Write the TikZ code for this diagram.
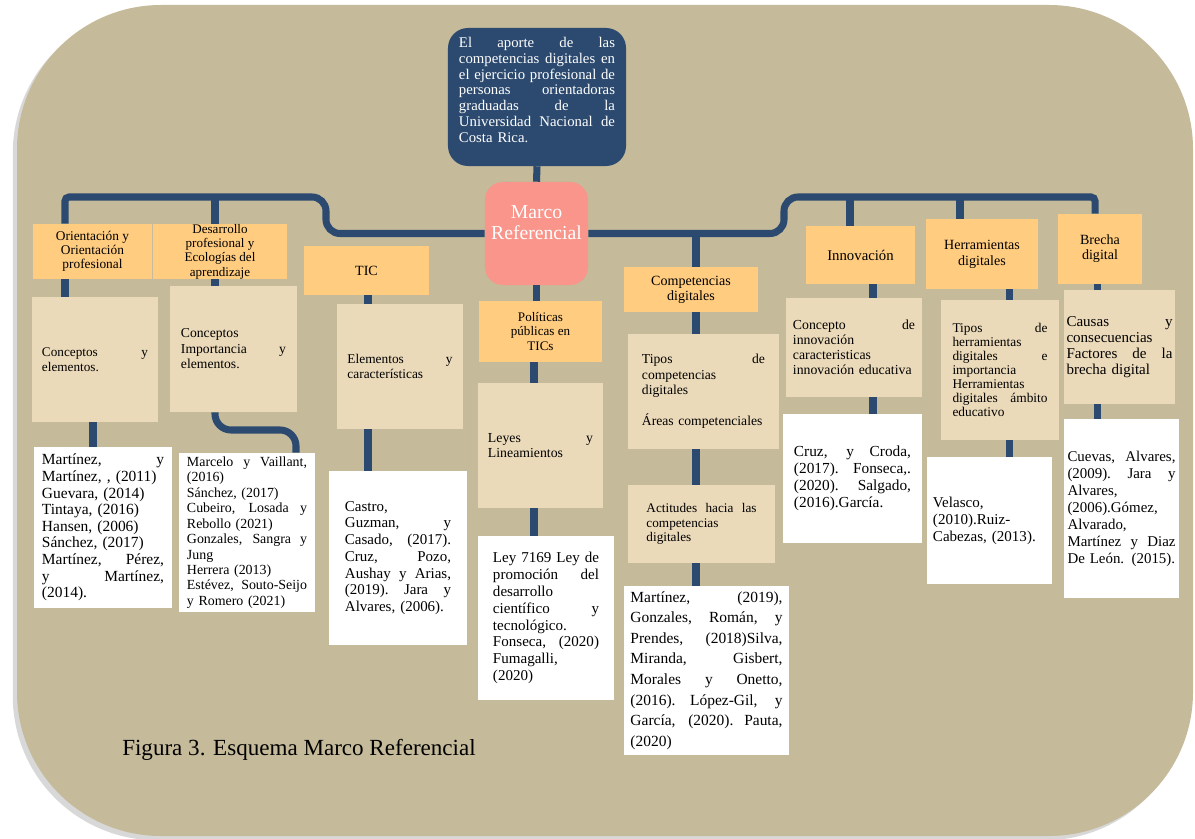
\documentclass[tikz,border=0pt]{standalone}
\usepackage{fontspec}
\setmainfont{Liberation Serif}
\usetikzlibrary{shadows}
\definecolor{fondo}{HTML}{C5BA9A}
\definecolor{azul}{HTML}{2C4A6F}
\definecolor{naranja}{HTML}{FFCC80}
\definecolor{beige}{HTML}{EBDABA}
\definecolor{salmon}{HTML}{F9958A}
% renglon justificado y espacio extra al pie del texto
\newcommand{\jl}[1]{\makebox[\linewidth][s]{\spaceskip=.25em plus 1fil\relax\xspaceskip=.25em plus 1fil\relax #1}}
\newcommand{\bajo}[1]{\par\vspace*{#1}}
\tikzset{
  enlace/.style={draw=azul, line width=5pt},
  fs/.style 2 args={font=\fontsize{#1}{#2}\selectfont},
  caja/.style 2 args={inner sep=0pt, minimum width=#1, minimum height=#2},
  tema/.style={fill=naranja, align=center},
  sub/.style={fill=beige, align=left},
  cita/.style={fill=white, align=left}
}
\begin{document}
\begin{tikzpicture}[x=0.025cm, y=-0.025cm]
\useasboundingbox (0,0) rectangle (1195,839);
\fill[white] (0,0) rectangle (1195,839);
\fill[fondo, rounded corners=3.6cm, drop shadow={shadow xshift=-3pt, shadow yshift=-3pt, opacity=0.3}] (17,5) rectangle (1193,836);

% centro
\node[caja={4.45cm}{3.45cm}, fill=azul, rounded corners=0.5cm, text=white, text width=3.9cm, align=left, fs={10.5}{11.2}] (titulo) at (537,97)
  {\jl{El aporte de las}\\ \jl{competencias digitales en}\\ \jl{el ejercicio profesional de}\\ \jl{personas orientadoras}\\ \jl{graduadas de la}\\ \jl{Universidad Nacional de}\\ Costa Rica.\bajo{10pt}};
\node[caja={2.575cm}{2.575cm}, fill=salmon, rounded corners=0.45cm, text=white, text width=2.5cm, align=center, fs={14}{15}] (marco) at (536.5,233.5) {Marco\\ Referencial\bajo{15pt}};

% temas
\node[tema, caja={2.975cm}{1.375cm}, fs={9.5}{10}] (orient) at (92.5,251.5) {Orientación y\\ Orientación\\ profesional};
\node[tema, caja={3.35cm}{1.375cm}, fs={9.3}{10.2}] (desarrollo) at (220,251.5) {Desarrollo\\ profesional y\\ Ecologías del\\ aprendizaje};
\node[tema, caja={3.125cm}{1.225cm}, fs={10}{11}] (tic) at (366.5,270.5) {TIC};
\node[tema, caja={3.075cm}{1.525cm}, fs={9.3}{10}] (politicas) at (540.5,331.5) {Políticas\\ públicas en\\ TICs};
\node[tema, caja={3.35cm}{1.125cm}, fs={10}{10.7}] (competencias) at (691,289.5) {Competencias\\ digitales};
\node[tema, caja={2.725cm}{1.45cm}, fs={10.5}{11}] (innovacion) at (860.5,255) {Innovación};
\node[tema, caja={2.8cm}{1.75cm}, fs={10}{11.4}] (herramientas) at (982,254) {Herramientas\\ digitales};
\node[tema, caja={2.1cm}{1.75cm}, fs={10}{10.7}] (brecha) at (1100,249) {Brecha\\ digital};

% subtemas
\node[sub, caja={3.15cm}{3.125cm}, text width=2.65cm, fs={9.4}{10.7}] (conc1) at (95,359.5) {\jl{Conceptos y}\\ elementos.\bajo{14pt}};
\node[sub, caja={3.175cm}{3.15cm}, text width=2.625cm, fs={9.7}{11}] (conc2) at (233.5,349) {Conceptos\\ \jl{Importancia y}\\ elementos.\bajo{20pt}};
\node[sub, caja={3.15cm}{3.125cm}, text width=2.625cm, fs={9.5}{10.7}] (elem) at (400,366.5) {\jl{Elementos y}\\ características\bajo{18pt}};
\node[sub, caja={3.125cm}{3.125cm}, text width=2.625cm, fs={9.8}{10.7}] (leyes) at (540.5,445.5) {\jl{Leyes y}\\ Lineamientos\bajo{20pt}};
\node[sub, caja={3.775cm}{2.875cm}, text width=3.075cm, fs={9.7}{11}] (tipos) at (703.5,391.5) {\jl{Tipos de}\\ competencias\\ digitales\\[11pt] Áreas competenciales\bajo{15pt}};
\node[sub, caja={3.675cm}{1.95cm}, text width=2.75cm, fs={9.4}{10.3}] (actitudes) at (701.5,524) {\jl{Actitudes hacia las}\\ competencias\\ digitales};
\node[sub, caja={3.4cm}{2.475cm}, text width=3.05cm, fs={9.8}{10.7}] (concinn) at (854,347.5) {\jl{Concepto de}\\ innovación\\ caracteristicas\\ innovación educativa};
\node[sub, caja={2.95cm}{3.5cm}, text width=2.375cm, fs={9.5}{10}] (tiposherr) at (1000,370) {\jl{Tipos de}\\ herramientas\\ \jl{digitales e}\\ importancia\\ Herramientas\\ \jl{digitales ámbito}\\ educativo};
\node[sub, caja={2.775cm}{2.85cm}, text width=2.65cm, fs={10.7}{11.4}] (causas) at (1119.5,347) {\jl{Causas y}\\ consecuencias\\ \jl{Factores de la}\\ brecha digital};

% referencias
\node[cita, caja={3.45cm}{4.025cm}, text width=3.05cm, fs={11}{11.8}] (ref1) at (103,527.5) {\jl{Martínez, y}\\ Martínez, , (2011)\\ Guevara, (2014)\\ Tintaya, (2016)\\ Hansen, (2006)\\ Sánchez, (2017)\\ \jl{Martínez, Pérez,}\\ \jl{y Martínez,}\\ (2014).};
\node[cita, caja={3.4cm}{3.975cm}, text width=3.0cm, fs={9.9}{11}] (ref2) at (247,532.5) {\jl{Marcelo y Vaillant,}\\ (2016)\\ Sánchez, (2017)\\ \jl{Cubeiro, Losada y}\\ Rebollo (2021)\\ \jl{Gonzales, Sangra y}\\ Jung\\ Herrera (2013)\\ \jl{Estévez, Souto-Seijo}\\ y Romero (2021)};
\node[cita, caja={3.45cm}{4.35cm}, text width=2.65cm, fs={10.65}{11.9}] (ref3) at (398,558) {Castro,\\ \jl{Guzman, y}\\ \jl{Casado, (2017).}\\ \jl{Cruz, Pozo,}\\ \jl{Aushay y Arias,}\\ \jl{(2019). Jara y}\\ Alvares, (2006).};
\node[cita, caja={3.4cm}{4.1cm}, text width=2.65cm, fs={10.7}{12}] (ref4) at (546,618) {\jl{Ley 7169 Ley de}\\ \jl{promoción del}\\ desarrollo\\ \jl{científico y}\\ tecnológico.\\ \jl{Fonseca, (2020)}\\ Fumagalli,\\ (2020)};
\node[cita, caja={4.125cm}{4.225cm}, text width=3.8cm, fs={11}{14.6}] (ref5) at (706.5,670.5) {\jl{Martínez, (2019),}\\ \jl{Gonzales, Román, y}\\ \jl{Prendes, (2018)Silva,}\\ \jl{Miranda, Gisbert,}\\ \jl{Morales y Onetto,}\\ \jl{(2016). López-Gil, y}\\ \jl{García, (2020). Pauta,}\\ (2020)\bajo{10pt}};
\node[cita, caja={3.475cm}{3.225cm}, text width=2.925cm, fs={10.9}{12.1}] (ref6) at (852.5,478.5) {\jl{Cruz, y Croda,}\\ \jl{(2017). Fonseca,.}\\ \jl{(2020). Salgado,}\\ (2016).García.};
\node[cita, caja={3.125cm}{3.175cm}, text width=2.825cm, fs={10.7}{12.1}] (ref7) at (989.5,520.5) {Velasco,\\ (2010).Ruiz-\\ Cabezas, (2013).};
\node[cita, caja={2.875cm}{4.475cm}, text width=2.7cm, fs={10.6}{12.1}] (ref8) at (1121.5,508.5) {\jl{Cuevas, Alvares,}\\ \jl{(2009). Jara y}\\ Alvares,\\ (2006).Gómez,\\ Alvarado,\\ \jl{Martínez y Diaz}\\ De León. (2015).};

\node[fs={16.4}{18}] (pie) at (299,750) {Figura 3. Esquema Marco Referencial};

% puntos de la red
\coordinate (jOri) at (65,197);
\coordinate (jDes) at (215,197);
\coordinate (jEsc1) at (326,197);
\coordinate (jEsc2) at (784,197);
\coordinate (jInn) at (850,197);
\coordinate (jHer) at (960,197);
\coordinate (jBre) at (1095,197);
\coordinate (jCom) at (696,233.5);
\coordinate (cCon) at (93,430);
\coordinate (cRef2) at (296,430);
\coordinate (cTic) at (368,300);
\coordinate (cPol) at (534,300);
\coordinate (cInn) at (873,300);
\coordinate (cHer) at (1009,300);
\coordinate (cBre) at (1097,300);

\draw[enlace] (titulo.south) -- (marco.north);
\draw[enlace, rounded corners=0.35cm] (marco.west) -- (jEsc1 |- marco.west) -- (jEsc1) [rounded corners=0.1cm] -- (jOri) -- (jOri |- orient.north);
\draw[enlace, rounded corners=0.35cm] (marco.east) -- (jEsc2 |- marco.east) -- (jEsc2) [rounded corners=0.1cm] -- (jBre) -- (jBre |- brecha.north);
\draw[enlace] (jDes) -- (jDes |- desarrollo.north);
\draw[enlace] (jCom) -- (jCom |- competencias.north);
\draw[enlace] (jInn) -- (jInn |- innovacion.north);
\draw[enlace] (jHer) -- (jHer |- herramientas.north);
\draw[enlace] (marco.south) -- (marco.south |- politicas.north);

\draw[enlace] (jOri |- orient.south) -- (jOri |- conc1.north);
\draw[enlace] (cCon |- conc1.south) -- (cCon |- ref1.north);
\draw[enlace] (jDes |- desarrollo.south) -- (jDes |- conc2.north);
\draw[enlace, rounded corners=0.4cm] (jDes |- conc2.south) |- (cRef2) -- (cRef2 |- ref2.north);
\draw[enlace] (cTic |- tic.south) -- (cTic |- elem.north);
\draw[enlace] (cTic |- elem.south) -- (cTic |- ref3.north);
\draw[enlace] (cPol |- politicas.south) -- (cPol |- leyes.north);
\draw[enlace] (cPol |- leyes.south) -- (cPol |- ref4.north);
\draw[enlace] (jCom |- competencias.south) -- (jCom |- tipos.north);
\draw[enlace] (jCom |- tipos.south) -- (jCom |- actitudes.north);
\draw[enlace] (jCom |- actitudes.south) -- (jCom |- ref5.north);
\draw[enlace] (cInn |- innovacion.south) -- (cInn |- concinn.north);
\draw[enlace] (cInn |- concinn.south) -- (cInn |- ref6.north);
\draw[enlace] (cHer |- herramientas.south) -- (cHer |- tiposherr.north);
\draw[enlace] (cHer |- tiposherr.south) -- (cHer |- ref7.north);
\draw[enlace] (cBre |- brecha.south) -- (cBre |- causas.north);
\draw[enlace] (cBre |- causas.south) -- (cBre |- ref8.north);
\end{tikzpicture}
\end{document}
